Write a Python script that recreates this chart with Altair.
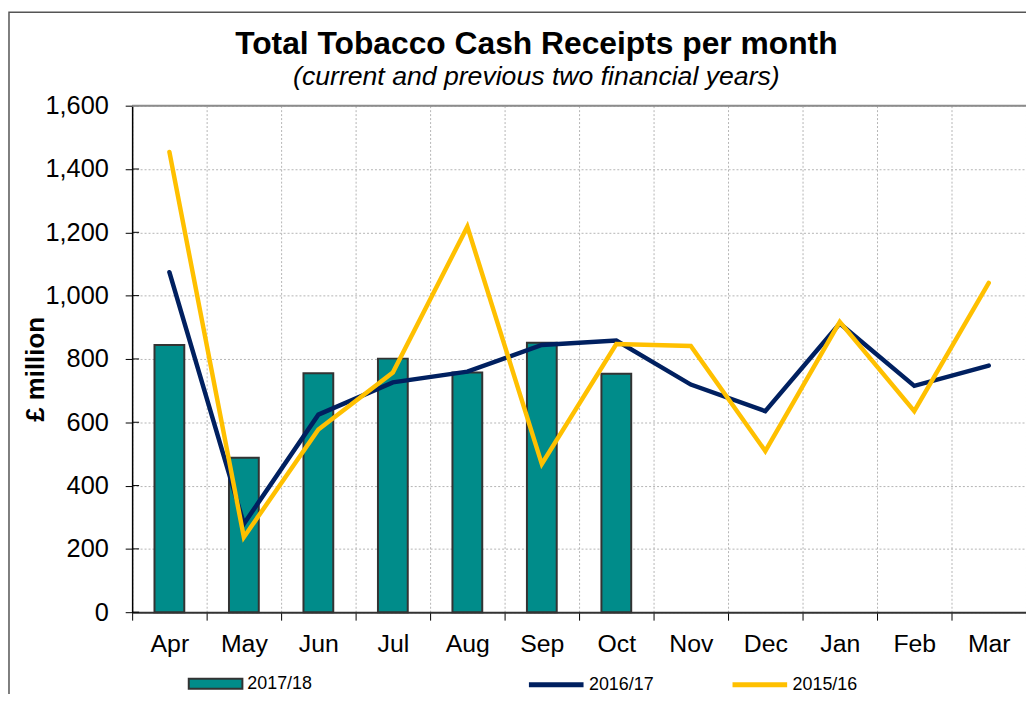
import altair as alt
import pandas as pd

months = ['Apr', 'May', 'Jun', 'Jul', 'Aug', 'Sep', 'Oct', 'Nov', 'Dec', 'Jan', 'Feb', 'Mar']
fy_2017_18 = [844, 488, 755, 801, 757, 851, 753]
fy_2016_17 = [1074, 279, 624, 726, 760, 844, 858, 719, 635, 912, 715, 779]
fy_2015_16 = [1454, 237, 577, 757, 1218, 468, 847, 841, 509, 917, 635, 1040]
y_ticks = [0, 200, 400, 600, 800, 1000, 1200, 1400, 1600]

FONT = "Liberation Sans"
W, H = 900, 510
TEAL, NAVY, GOLD = "#008C8A", "#002060", "#FFC000"

bars_df = pd.DataFrame({'month': months[:len(fy_2017_18)], 'value': fy_2017_18,
                        'series': ['2017/18'] * len(fy_2017_18)})
navy_df = pd.DataFrame({'month': months, 'value': fy_2016_17, 'series': ['2016/17'] * 12})
gold_df = pd.DataFrame({'month': months, 'value': fy_2015_16, 'series': ['2015/16'] * 12})
ticks_df = pd.DataFrame({'value': y_ticks})
one = pd.DataFrame({'a': [0]})

x_enc = alt.X('month:N', sort=months,
              scale=alt.Scale(domain=months, paddingInner=0, paddingOuter=0),
              axis=alt.Axis(title=None, labelAngle=0, tickBand='extent', grid=True,
                            gridDash=[2, 2], gridColor='#b4b4b4', gridWidth=1,
                            labelFontSize=25, labelPadding=12, tickSize=8,
                            tickColor='black', domainColor='#333333', domainWidth=2,
                            labelColor='black', labelFont=FONT))
y_enc = alt.Y('value:Q', scale=alt.Scale(domain=[0, 1600], nice=False),
              axis=alt.Axis(values=y_ticks, format=',.0f', title='£ million',
                            titleFont=FONT, titleFontSize=26, titleFontWeight='bold',
                            titleColor='black', titleX=-97, titleY=265, titleAngle=270,
                            titleAlign='center', titleBaseline='middle',
                            grid=True, gridDash=[2, 2], gridColor='#b4b4b4', gridWidth=1,
                            labelFontSize=25.5, labelPadding=17, tickSize=7,
                            tickColor='black', domainColor='black', domainWidth=1.5,
                            labelColor='black', labelFont=FONT))

frame = alt.Chart(one).mark_rect(fillOpacity=0, stroke='#555555', strokeWidth=1.5).encode(
    x=alt.value(-124), x2=alt.value(1000), y=alt.value(-94), y2=alt.value(700))

top_border = alt.Chart(one).mark_rule(color='#8c8c8c', strokeWidth=2).encode(
    x=alt.value(0), x2=alt.value(W), y=alt.value(0))

inner_ticks = alt.Chart(ticks_df).mark_rule(color='black', strokeWidth=1).encode(
    x=alt.value(0), x2=alt.value(7), y='value:Q')

bars = alt.Chart(bars_df).mark_bar(width=alt.RelativeBandSize(0.4), stroke='#333333',
                                   strokeWidth=2).encode(
    x=x_enc, y=y_enc,
    fill=alt.Fill('series:N', scale=alt.Scale(domain=['2017/18'], range=[TEAL]),
                  legend=alt.Legend(title=None, orient='none', legendX=56, legendY=554,
                                    symbolType='M-1,-0.185H1V0.185H-1Z', symbolSize=2916,
                                    symbolStrokeColor='#333333', symbolStrokeWidth=2,
                                    symbolFillColor=TEAL, symbolOpacity=1,
                                    labelFont=FONT, labelFontSize=18, labelColor='black',
                                    labelOffset=4, padding=0)))

line_scale = alt.Scale(domain=['2016/17', '2015/16'], range=[NAVY, GOLD])
line_legend = alt.Legend(title=None, orient='none', direction='horizontal', legendX=397,
                         legendY=553, symbolType='stroke', symbolSize=3025,
                         symbolStrokeWidth=5, columnPadding=68, labelOffset=3, padding=0,
                         labelFont=FONT, labelFontSize=18, labelColor='black')

navy = alt.Chart(navy_df).mark_line(strokeWidth=4.5, strokeCap='round').encode(
    x=alt.X('month:N', sort=months), y='value:Q',
    stroke=alt.Stroke('series:N', scale=line_scale, legend=line_legend))
gold = alt.Chart(gold_df).mark_line(strokeWidth=4.5, strokeCap='round').encode(
    x=alt.X('month:N', sort=months), y='value:Q',
    stroke=alt.Stroke('series:N', scale=line_scale, legend=line_legend))

chart = alt.layer(frame, bars, navy, gold, inner_ticks, top_border).properties(
    width=W, height=H,
    padding={'left': 125, 'top': 96, 'right': 0, 'bottom': 80},
    autosize=alt.AutoSizeParams(type='none'),
    title=alt.TitleParams(text='Total Tobacco Cash Receipts per month',
                          subtitle='(current and previous two financial years)',
                          font=FONT, fontSize=32, fontWeight='bold', color='black',
                          subtitleFont=FONT, subtitleFontSize=26.8, subtitleFontStyle='italic',
                          subtitleColor='black', anchor='middle', dx=-43, offset=-81,
                          subtitlePadding=3)
).configure_view(stroke=None).configure(background='white')

chart.save("out.html", embed_options={"renderer": "svg", "actions": False})
